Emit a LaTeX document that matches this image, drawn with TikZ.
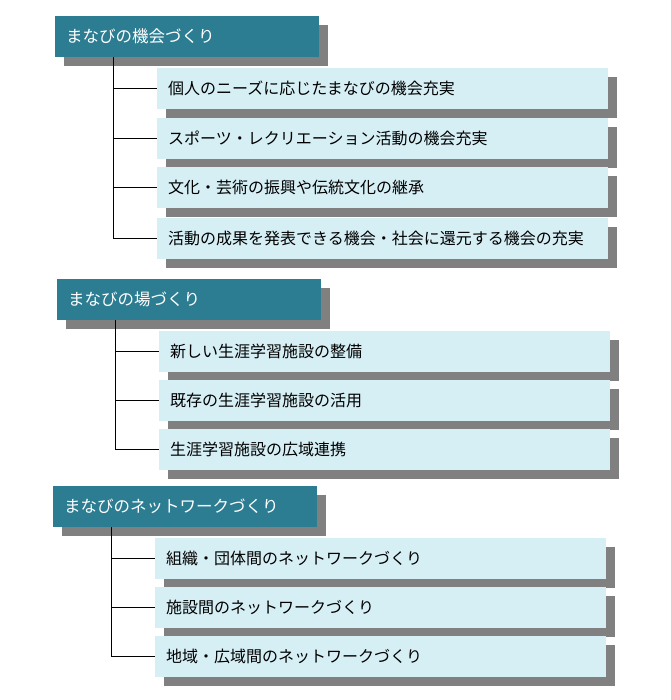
\documentclass[tikz,border=0pt]{standalone}
\usepackage{fontspec}
\setmainfont{Noto Sans CJK JP}
\usetikzlibrary{shadows}
\definecolor{headteal}{HTML}{2C7D92}
\definecolor{itemcyan}{HTML}{D6EFF5}
\definecolor{shadegray}{HTML}{808080}
\begin{document}
\begin{tikzpicture}
[x=1pt,y=-1pt,
  headbox/.style={shape=rectangle,anchor=north west,fill=headteal,text=white,
    minimum height=41pt,inner xsep=11pt,inner ysep=0pt,text width=242pt,align=left,
    font=\fontsize{16.5}{20}\selectfont,
    general shadow={fill=shadegray,shadow xshift=9pt,shadow yshift=-9pt}},%
  itembox/.style={headbox,fill=itemcyan,text=black,text width=429pt,
    font=\fontsize{16}{20}\selectfont},%
  linkdecorate/.style={draw=black,line width=1pt}]
\useasboundingbox (0,0) rectangle (670,700);
%% group headers
\foreach \nodename/\x/\y/\txt in {g1/55/16/まなびの機会づくり,
  g2/57/279/まなびの場づくり, g3/53/486/まなびのネットワークづくり} {
  \node (\nodename) at (\x,\y) [headbox] {\txt};
}
%% items
\foreach \nodename/\x/\y/\txt in {a1/157/68/個人のニーズに応じたまなびの機会充実,
  a2/157/118/スポーツ・レクリエーション活動の機会充実,
  a3/157/167/文化・芸術の振興や伝統文化の継承,
  a4/157/218/活動の成果を発表できる機会・社会に還元する機会の充実,
  b1/159/331/新しい生涯学習施設の整備,
  b2/159/380/既存の生涯学習施設の活用,
  b3/159/429/生涯学習施設の広域連携,
  c1/155/538/組織・団体間のネットワークづくり,
  c2/155/587/施設間のネットワークづくり,
  c3/155/636/地域・広域間のネットワークづくり} {
  \node (\nodename) at (\x,\y) [itembox] {\txt};
}
%% tree lines
\foreach \parent/\child in {g1/a1, g1/a2, g1/a3, g1/a4,
  g2/b1, g2/b2, g2/b3, g3/c1, g3/c2, g3/c3} {
  \draw[linkdecorate] ([xshift=58pt]\parent.south west) |- (\child.west);
}
\end{tikzpicture}
\end{document}
